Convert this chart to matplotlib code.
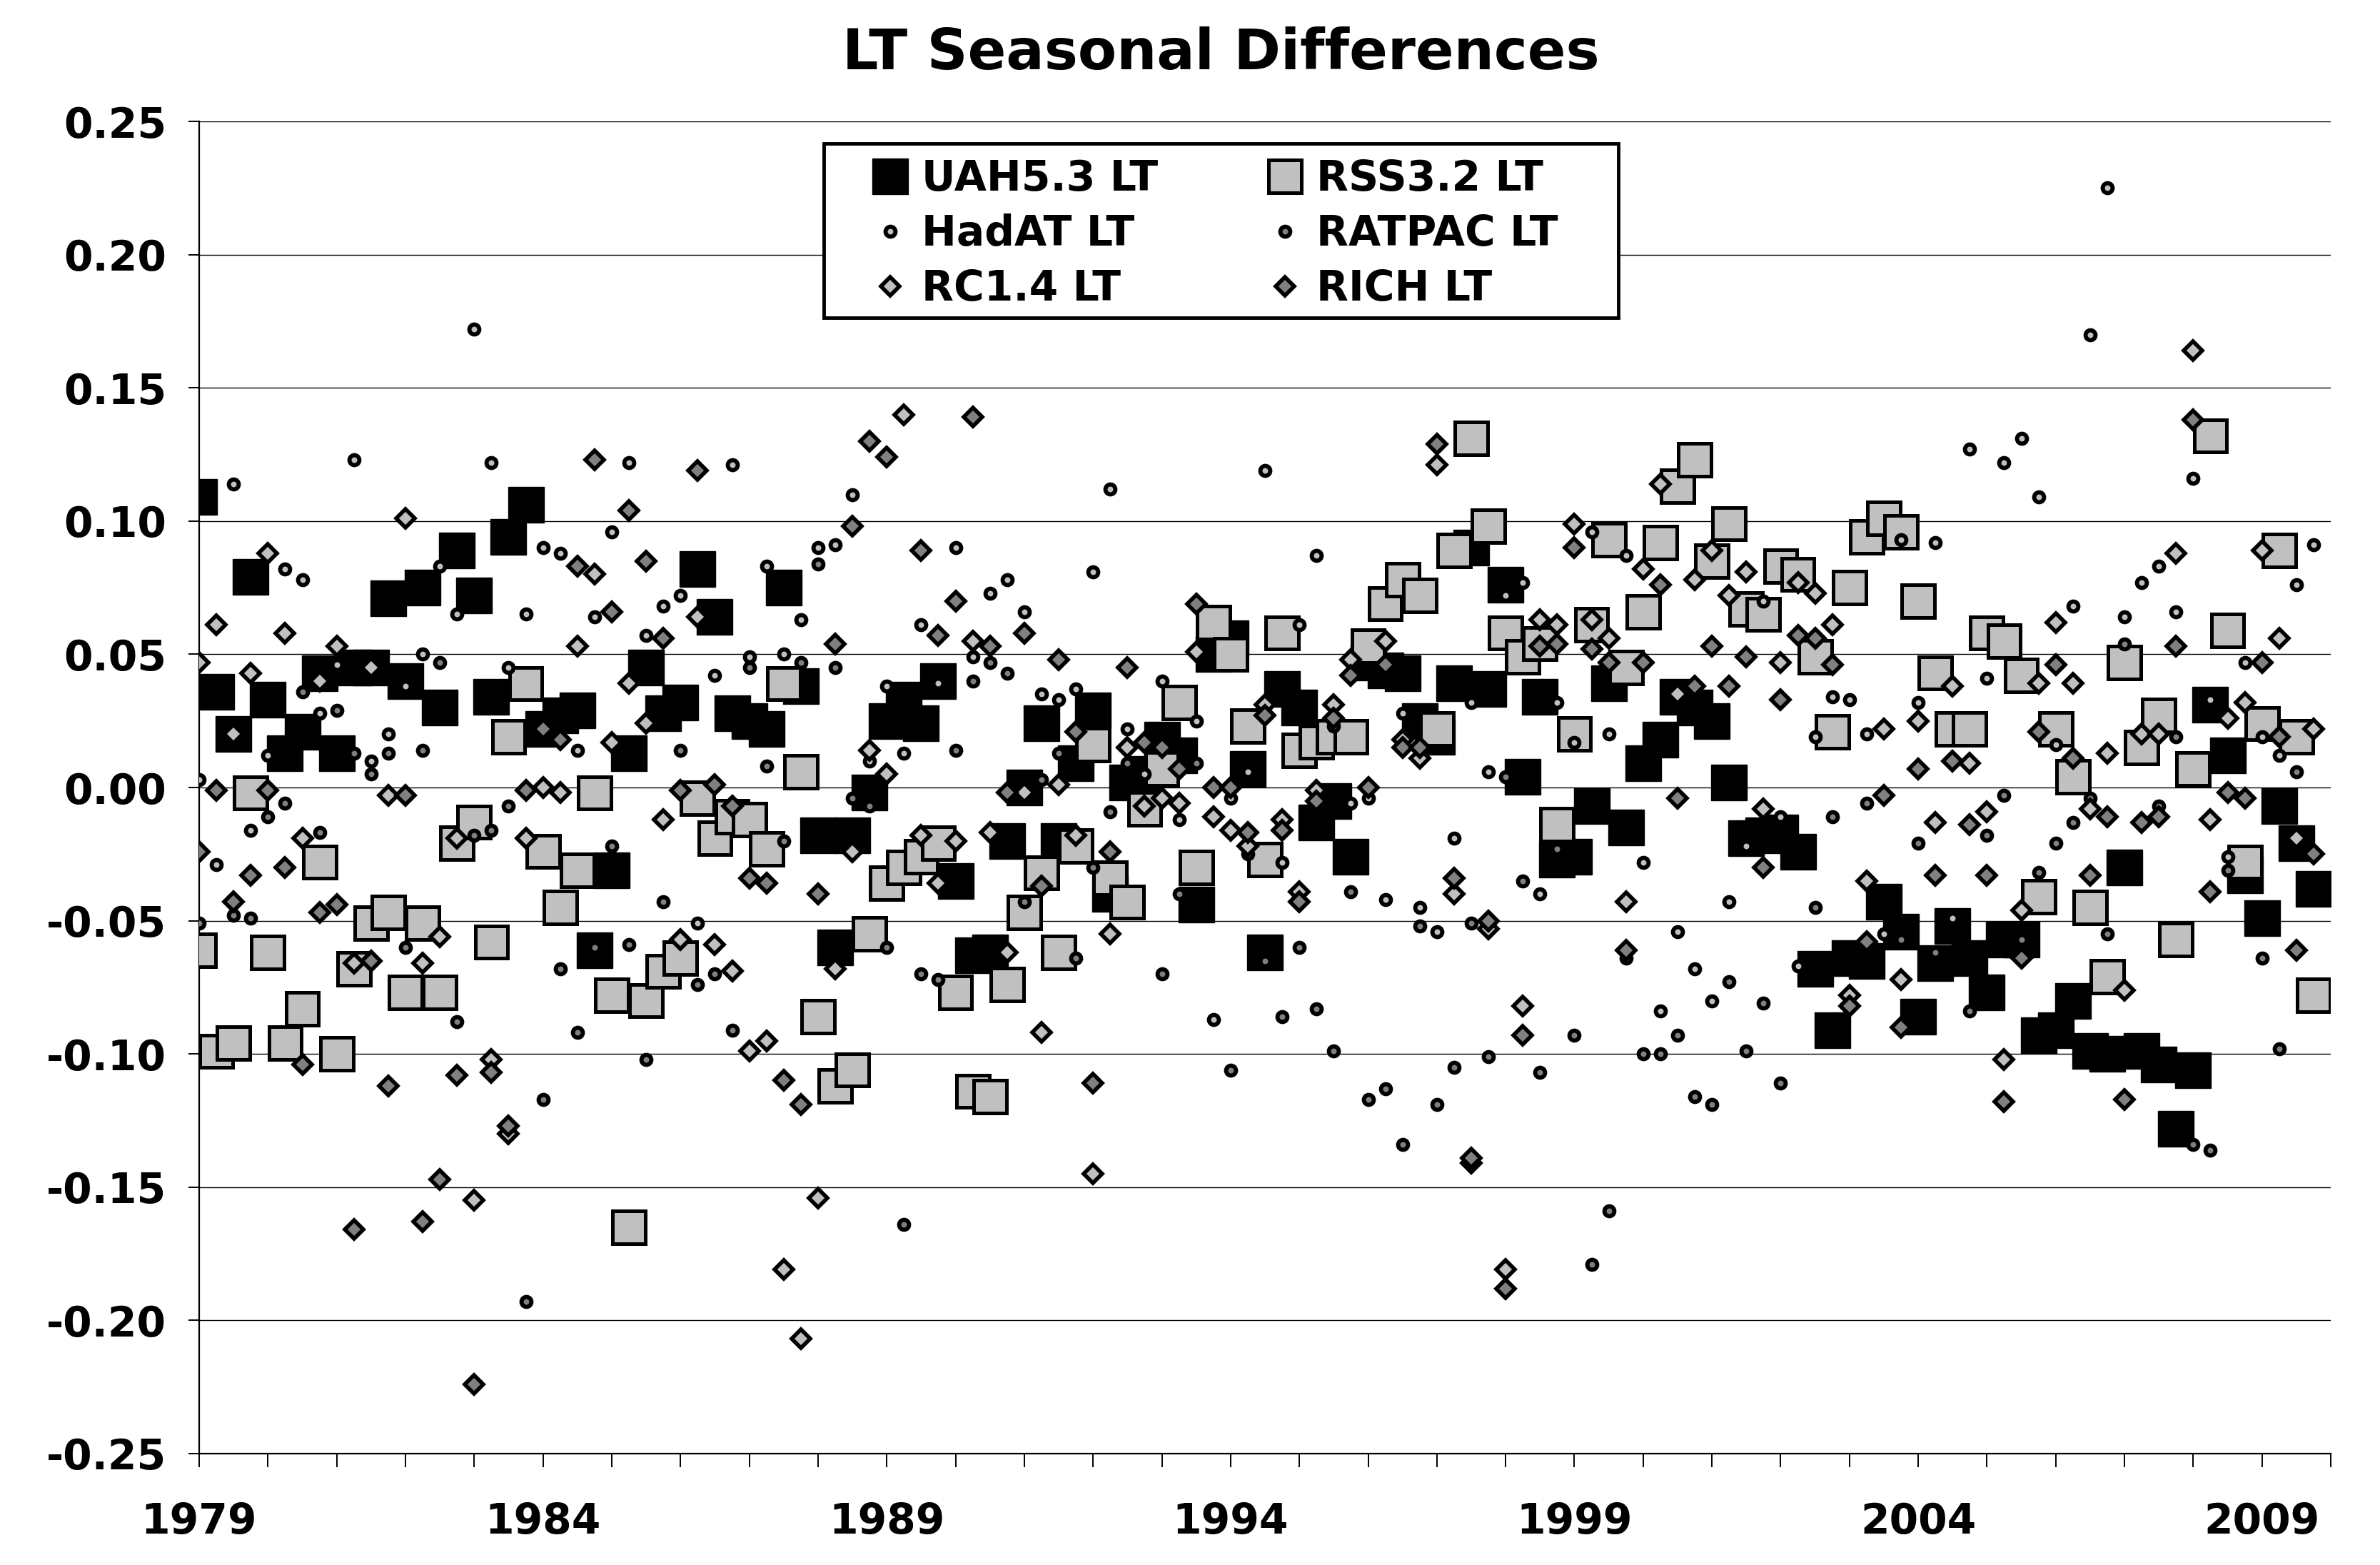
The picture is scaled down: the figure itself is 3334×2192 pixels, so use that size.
import numpy as np
import matplotlib
matplotlib.use("Agg")
import matplotlib.pyplot as plt
import matplotlib.patheffects as pe
from matplotlib.patches import Rectangle

nan = np.nan

# seasonal values, 1979.0 .. 2009.75 (4 per year)
start_year = 1979
n_seasons = 124

uah = [0.109, 0.036, 0.020, 0.079, 0.033, 0.013, 0.021, 0.043, 0.013, 0.045,
       0.045, 0.071, 0.040, 0.075, 0.030, 0.089, 0.072, 0.034, 0.094, 0.106,
       0.022, 0.027, 0.029, -0.061, -0.031, 0.013, 0.045, 0.028, 0.032, 0.082,
       0.064, 0.028, 0.025, 0.022, 0.075, 0.038, -0.018, -0.060, -0.018, -0.002,
       0.025, 0.033, 0.024, 0.040, -0.035, -0.063, -0.062, -0.020, 0.000, 0.024,
       -0.020, 0.009, 0.029, -0.040, 0.002, 0.005, 0.018, 0.012, -0.044, 0.050,
       0.056, 0.007, -0.062, 0.037, 0.030, -0.013, -0.005, -0.026, 0.047, 0.044,
       0.043, 0.025, 0.019, 0.039, 0.090, 0.037, 0.076, 0.004, 0.034, -0.027,
       -0.026, -0.007, 0.039, -0.015, 0.009, 0.018, 0.034, 0.030, 0.025, 0.002,
       -0.019, -0.018, -0.017, -0.024, -0.068, -0.091, -0.064, -0.065, -0.043, -0.054,
       -0.086, -0.066, -0.052, -0.064, -0.077, -0.057, -0.057, -0.093, -0.091, -0.080,
       -0.099, -0.100, -0.030, -0.099, -0.104, -0.128, -0.106, 0.031, 0.012, -0.033,
       -0.049, -0.007, -0.021, -0.038]

rss = [-0.061, -0.099, -0.096, -0.002, -0.062, -0.096, -0.083, -0.028, -0.100, -0.068,
       -0.051, -0.047, -0.077, -0.051, -0.077, -0.021, -0.013, -0.058, 0.019, 0.039,
       -0.024, -0.045, -0.031, -0.002, -0.078, -0.165, -0.080, -0.069, -0.064, -0.004,
       -0.019, -0.011, -0.012, -0.023, 0.039, 0.006, -0.086, -0.112, -0.106, -0.055,
       -0.036, -0.030, -0.026, -0.021, -0.077, -0.114, -0.116, -0.074, -0.047, -0.032,
       -0.062, -0.022, 0.016, -0.034, -0.043, -0.008, 0.007, 0.032, -0.030, 0.062,
       0.050, 0.023, -0.027, 0.058, 0.014, 0.017, 0.019, 0.019, 0.053, 0.069,
       0.078, 0.072, 0.022, 0.089, 0.131, 0.098, 0.058, 0.049, 0.054, -0.014,
       0.020, 0.061, 0.093, 0.045, 0.066, 0.092, 0.113, 0.123, 0.085, 0.099,
       0.067, 0.065, 0.083, 0.080, 0.049, 0.021, 0.075, 0.094, 0.101, 0.096,
       0.070, 0.043, 0.022, 0.022, 0.058, 0.055, 0.042, -0.041, 0.022, 0.004,
       -0.045, -0.071, 0.047, 0.015, 0.027, -0.057, 0.007, 0.132, 0.059, -0.028,
       0.024, 0.089, 0.019, -0.078]

hadat = [0.003, -0.029, 0.114, -0.016, 0.012, 0.082, 0.078, 0.028, 0.046, 0.123,
         0.010, 0.020, 0.038, 0.050, 0.083, 0.065, 0.172, 0.122, 0.045, 0.065,
         0.090, 0.088, 0.014, 0.064, 0.096, 0.122, 0.057, 0.068, 0.072, -0.051,
         0.042, 0.121, 0.049, 0.083, 0.050, 0.063, 0.090, 0.091, 0.110, 0.010,
         0.038, 0.013, 0.061, 0.039, 0.090, 0.049, 0.073, 0.078, 0.066, 0.035,
         0.033, 0.037, 0.081, 0.112, 0.022, 0.005, 0.040, -0.012, 0.025, -0.087,
         -0.004, 0.006, 0.119, -0.028, 0.061, 0.087, 0.023, -0.006, -0.004, -0.042,
         0.028, -0.045, -0.054, -0.019, 0.032, 0.006, 0.072, 0.077, -0.040, 0.032,
         0.017, 0.096, 0.020, 0.087, -0.028, -0.084, -0.054, -0.068, -0.080, -0.043,
         -0.022, 0.070, -0.011, -0.067, 0.019, 0.034, 0.033, 0.020, -0.055, 0.093,
         0.032, 0.092, -0.049, 0.127, 0.041, 0.122, 0.131, 0.109, 0.016, 0.068,
         0.170, 0.225, 0.064, 0.077, 0.083, 0.066, 0.116, 0.033, -0.026, 0.047,
         0.019, 0.012, 0.076, 0.091]

ratpac = [-0.051, nan, -0.048, -0.049, -0.011, -0.006, 0.036, -0.017, 0.029, 0.013,
          0.005, 0.013, -0.060, 0.014, 0.047, -0.088, -0.018, -0.016, -0.007, -0.193,
          -0.117, -0.068, -0.092, -0.060, -0.022, -0.059, -0.102, -0.043, 0.014, -0.074,
          -0.070, -0.091, 0.045, 0.008, -0.020, 0.047, 0.084, 0.045, -0.004, -0.007,
          -0.060, -0.164, -0.070, -0.072, 0.014, 0.040, 0.047, 0.043, -0.043, 0.003,
          0.013, -0.064, -0.030, -0.009, 0.009, nan, -0.070, -0.040, 0.009, nan,
          -0.106, -0.025, -0.065, -0.086, -0.060, -0.083, -0.099, -0.039, -0.117, -0.113,
          -0.134, -0.052, -0.119, -0.105, -0.051, -0.101, 0.004, -0.035, -0.107, -0.023,
          -0.093, -0.179, -0.159, -0.064, -0.100, -0.100, -0.093, -0.116, -0.119, -0.073,
          -0.099, -0.081, -0.111, nan, -0.045, -0.011, nan, -0.006, nan, -0.057,
          -0.021, -0.062, nan, -0.084, -0.018, -0.003, -0.057, -0.032, -0.021, -0.013,
          -0.004, -0.055, 0.054, nan, -0.007, 0.019, -0.134, -0.136, -0.031, nan,
          -0.064, -0.098, 0.006, nan]

rc14 = [0.047, 0.061, 0.020, 0.043, 0.088, 0.058, -0.019, 0.040, 0.053, -0.066,
        0.045, -0.003, 0.101, -0.066, -0.056, -0.019, -0.155, -0.102, -0.130, -0.019,
        0.000, -0.002, 0.053, 0.080, 0.017, 0.039, 0.024, -0.012, -0.057, 0.064,
        -0.059, -0.069, -0.099, -0.095, -0.181, -0.207, -0.154, -0.068, -0.024, 0.014,
        0.005, 0.140, -0.018, -0.036, -0.020, 0.055, -0.017, -0.062, -0.002, -0.092,
        0.001, -0.018, -0.145, -0.055, 0.015, -0.007, -0.004, -0.006, 0.051, -0.011,
        -0.016, -0.022, 0.031, -0.012, -0.039, -0.001, 0.031, 0.048, nan, 0.055,
        0.018, 0.011, 0.121, -0.040, -0.141, -0.053, -0.181, -0.082, 0.063, 0.061,
        0.099, 0.063, 0.056, -0.043, 0.082, 0.114, 0.035, 0.078, 0.089, 0.072,
        0.081, -0.008, 0.047, 0.077, 0.073, 0.061, -0.078, -0.035, 0.022, -0.072,
        0.025, -0.013, 0.038, 0.009, -0.009, -0.102, -0.046, 0.039, 0.062, 0.039,
        -0.008, 0.013, -0.076, 0.020, 0.020, 0.088, 0.164, -0.012, 0.026, 0.032,
        0.089, 0.056, -0.019, 0.022]

rich = [-0.024, -0.001, -0.043, -0.033, -0.001, -0.030, -0.104, -0.047, -0.044, -0.166,
        -0.065, -0.112, -0.003, -0.163, -0.147, -0.108, -0.224, -0.107, -0.127, -0.001,
        0.022, 0.018, 0.083, 0.123, 0.066, 0.104, 0.085, 0.056, -0.001, 0.119,
        0.001, -0.007, -0.034, -0.036, -0.110, -0.119, -0.040, 0.054, 0.098, 0.130,
        0.124, nan, 0.089, 0.057, 0.070, 0.139, 0.053, -0.002, 0.058, -0.037,
        0.048, 0.021, -0.111, -0.024, 0.045, 0.017, 0.015, 0.007, 0.069, 0.000,
        0.000, -0.017, 0.027, -0.016, -0.043, -0.005, 0.026, 0.042, 0.000, 0.046,
        0.015, 0.015, 0.129, -0.034, -0.139, -0.050, -0.188, -0.093, 0.053, 0.054,
        0.090, 0.052, 0.047, -0.061, 0.047, 0.076, -0.004, 0.038, 0.053, 0.038,
        0.049, -0.030, 0.033, 0.057, 0.056, 0.046, -0.082, -0.058, -0.003, -0.090,
        0.007, -0.033, 0.010, -0.014, -0.033, -0.118, -0.064, 0.021, 0.046, 0.011,
        -0.033, -0.011, -0.117, -0.013, -0.011, 0.053, 0.138, -0.039, -0.002, -0.004,
        0.047, 0.019, -0.061, -0.025]

labels = ["UAH5.3 LT", "RSS3.2 LT", "HadAT LT", "RATPAC LT", "RC1.4 LT", "RICH LT"]
year_labels = [1979, 1984, 1989, 1994, 1999, 2004, 2009]
y_ticks = [-0.25, -0.20, -0.15, -0.10, -0.05, 0.00, 0.05, 0.10, 0.15, 0.20, 0.25]

seasons = start_year + np.arange(n_seasons) / 4.0

plt.rcParams["font.family"] = ["DejaVu Sans"]
plt.rcParams["font.weight"] = "bold"
plt.rcParams["axes.unicode_minus"] = False

fig = plt.figure(figsize=(33.34, 21.92), dpi=100)
ax = fig.add_axes([0.0837, 0.0712, 0.8956, 0.8512])

light = "#c0c0c0"
dark = "#808080"
shadow = [pe.SimplePatchShadow(offset=(2, -2), shadow_rgbFace="#b4b4b4", alpha=1.0), pe.Normal()]

h_uah, = ax.plot(seasons, uah, ls="none", marker="s", ms=36.5, mfc="black", mec="black",
                 mew=1, label=labels[0], zorder=3)
h_rss, = ax.plot(seasons, rss, ls="none", marker="s", ms=33, mfc=light, mec="black",
                 mew=3.6, label=labels[1], zorder=4, path_effects=shadow)
h_had, = ax.plot(seasons, hadat, ls="none", marker="o", ms=10, mfc=light, mec="black",
                 mew=4.2, label=labels[2], zorder=5)
h_rat, = ax.plot(seasons, ratpac, ls="none", marker="o", ms=10, mfc=dark, mec="black",
                 mew=4.2, label=labels[3], zorder=6)
h_rc, = ax.plot(seasons, rc14, ls="none", marker="D", ms=13.7, mfc=light, mec="black",
                mew=4.0, label=labels[4], zorder=7)
h_rich, = ax.plot(seasons, rich, ls="none", marker="D", ms=13.7, mfc=dark, mec="black",
                  mew=4.0, label=labels[5], zorder=8)

ax.set_xlim(1979, 2010)
ax.set_ylim(-0.25, 0.25)
ax.set_xticks(year_labels)
ax.set_xticks(range(1979, 2011), minor=True)
ax.set_yticks(y_ticks)
ax.set_yticklabels([f"{v:.2f}" for v in y_ticks])

ax.grid(axis="y", color="black", lw=1.0, zorder=1)
ax.set_axisbelow(True)
for side in ["top", "right"]:
    ax.spines[side].set_visible(False)
for side in ["left", "bottom"]:
    ax.spines[side].set_linewidth(1.6)
    ax.spines[side].set_zorder(2)

ax.tick_params(axis="x", which="both", direction="out", length=14, width=1.4, pad=34,
               labelsize=42)
ax.tick_params(axis="y", which="major", direction="out", length=11, width=1.4, pad=22,
               labelsize=42)
for t in ax.get_xticklabels() + ax.get_yticklabels():
    t.set_fontweight("bold")

fig.text(0.513, 0.966, "LT Seasonal Differences", ha="center", va="center",
         fontsize=57, fontweight="bold")

# legend laid out row by row (UAH, RSS / HadAT, RATPAC / RC1.4, RICH)
handles = [h_uah, h_had, h_rc, h_rss, h_rat, h_rich]
leg = ax.legend(handles, [h.get_label() for h in handles],
                loc="upper left", bbox_to_anchor=(0.3653, 0.8985),
                bbox_transform=fig.transFigure, ncol=2, fontsize=42, frameon=False,
                borderpad=0, borderaxespad=0, handlelength=1.0, handletextpad=0.25,
                columnspacing=2.55, labelspacing=0.34)
for txt in leg.get_texts():
    txt.set_fontweight("bold")
leg.set_zorder(20)

frame = Rectangle((0.3461, 0.7970), 0.3339, 0.1113, transform=fig.transFigure,
                  facecolor="white", edgecolor="black", lw=3.5, zorder=19, clip_on=False)
ax.add_patch(frame)

fig.savefig("out.png", dpi=100)
